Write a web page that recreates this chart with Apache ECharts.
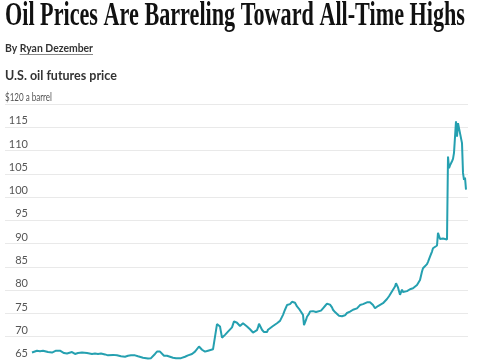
<!DOCTYPE html>
<html><head><meta charset="utf-8">
<script src="https://cdn.jsdelivr.net/npm/echarts@6/dist/echarts.min.js"></script>
<style>html,body{margin:0;padding:0;background:#fff}#c{width:485px;height:360px}</style>
</head><body><div id="c"></div>
<script>
// ---- Text ----
const titleText = 'Oil Prices Are Barreling Toward All-Time Highs';
const bylinePrefix = 'By ';
const authorName = 'Ryan Dezember';
const subtitleText = 'U.S. oil futures price';
const unitLabel = '$120 a barrel';

// ---- Axis ----
const yMin = 65, yMax = 120, yStep = 5;

// ---- Data (trading-day index, price $/barrel) ----
const days = [0,2,5,8,11,13,16,20,22,24,26,28,30,32,35,37,40,42,43,46,50,52,55,57,60,63,66,69,73,76,78,81,85,87,89,93,96,99,103,106,108,111,113,116,119,121,123,125,128,130,132,135,138,141,144,146,149,153,156,160,163,165,167,170,173,176,178,181,183,185,187,188,190,192,193,196,198,200,202,205,207,208,210,211,213,215,217,218,220,221,223,225,226,227,230,232,233,235,236,238,241,245,248,251,253,255,256,258,260,261,263,265,267,268,271,272,274,275,277,278,281,284,286,289,291,293,295,297,298,300,301,303,305,307,308,310,311,313,315,317,318,320,321,323,325,327,328,331,333,335,336,338,340,341,343,345,346,348,351,353,355,357,359,360,361,363,364,366,368,370,371,373,375,376,378,380,381,383,385,386,388,390,391,393,395,396,398,400,401,403,405,406,408,410,411,413,415,416,417,418,420,421,422,424,425,426,428,430,431,432,433,434];
const prices = [66.6,66.8,67.0,66.9,67.0,66.9,66.7,66.6,66.8,67.0,67.3,67.0,66.7,66.5,66.4,66.6,66.7,66.5,66.3,66.5,66.6,66.4,66.5,66.3,66.3,66.4,66.3,66.4,66.2,66.0,65.9,66.1,66.0,65.9,65.8,65.7,65.9,66.0,66.0,65.8,65.7,65.5,65.2,65.3,65.4,65.6,66.3,66.8,66.8,66.4,65.9,65.9,65.7,65.5,65.4,65.2,65.4,65.7,66.0,66.3,66.8,67.1,67.9,67.2,66.8,67.0,67.2,67.3,67.4,72.7,72.4,72.2,69.8,70.1,70.4,71.1,71.3,72.0,73.3,73.0,72.6,72.3,72.6,72.9,72.5,72.2,71.9,71.6,71.2,70.9,71.2,71.4,72.0,72.8,71.5,71.0,70.7,71.0,71.5,71.8,72.3,72.9,73.4,74.7,75.8,76.8,76.5,77.0,77.5,77.5,77.3,76.5,76.0,75.6,74.7,72.5,73.6,74.3,74.9,75.4,75.5,75.3,75.4,75.6,76.1,76.6,77.1,76.9,76.9,76.3,75.8,75.3,74.9,74.5,74.2,74.4,74.3,74.6,75.1,75.3,75.4,75.6,75.8,75.7,76.1,76.4,76.8,77.0,77.3,77.4,77.5,77.4,77.2,76.8,76.1,76.4,76.6,76.8,77.2,77.4,78.1,78.7,79.4,79.6,80.1,80.8,81.5,80.6,79.0,80.1,79.6,79.4,79.8,80.1,80.2,80.3,80.4,80.8,81.1,81.5,82.2,84.0,84.7,84.4,85.6,86.1,87.2,88.3,89.0,89.4,89.6,92.3,91.0,91.2,91.1,91.2,90.9,108.7,106.2,106.8,107.7,108.2,109.5,116.3,113.0,115.9,115.6,111.6,105.2,103.7,104.2,101.6];

const lineData = days.map((d, i) => [d, prices[i]]);

// measure text for layout
const mctx = document.createElement('canvas').getContext('2d');
const titleFont = 'bold 33px "Liberation Serif"';
mctx.font = titleFont;
const titleScale = 460 / mctx.measureText(titleText).width;
const byFont = 'bold 11.5px Lato';
mctx.font = byFont;
const prefixW = mctx.measureText(bylinePrefix).width;
const authorW = mctx.measureText(authorName).width;
const byScale = 88 / (prefixW + authorW);
const unitFont = '10.5px Lato';
mctx.font = unitFont;
const unitScale = 47 / mctx.measureText(unitLabel).width;

const chart = echarts.init(document.getElementById('c'), null, {renderer: 'canvas'});
chart.setOption({
  animation: false,
  backgroundColor: '#fff',
  grid: {left: 5, right: 17, top: 104, bottom: 0, containLabel: false},
  xAxis: {
    type: 'value', min: -27, max: 436,
    show: false
  },
  yAxis: {
    type: 'value', min: yMin, max: yMax, interval: yStep,
    axisLine: {show: false}, axisTick: {show: false},
    splitLine: {show: true, lineStyle: {color: '#e9e9e9', width: 1}},
    axisLabel: {
      show: true, align: 'right', verticalAlign: 'bottom', margin: -23,
      padding: [0, 0, 1, 0],
      color: '#555', fontSize: 11, fontFamily: 'Lato',
      formatter: v => (v === yMax ? '' : String(v))
    }
  },
  graphic: [
    {type: 'text', x: 5, y: 16, scaleX: titleScale,
     style: {text: titleText, font: titleFont, fill: '#111', verticalAlign: 'middle', align: 'left'}},
    {type: 'text', x: 5, y: 48, scaleX: byScale,
     style: {text: bylinePrefix + authorName, font: byFont, fill: '#333', verticalAlign: 'middle', align: 'left'}},
    {type: 'line', shape: {x1: 5 + prefixW * byScale, y1: 54.5, x2: 5 + (prefixW + authorW) * byScale, y2: 54.5},
     style: {stroke: '#888', lineWidth: 1}},
    {type: 'text', x: 5, y: 76,
     style: {text: subtitleText, font: 'bold 12.5px Lato', fill: '#333', verticalAlign: 'middle', align: 'left'}},
    {type: 'text', x: 5, y: 98, scaleX: unitScale,
     style: {text: unitLabel, font: unitFont, fill: '#555', verticalAlign: 'middle', align: 'left'}}
  ],
  series: [{
    type: 'line', data: lineData, showSymbol: false, symbol: 'none',
    lineStyle: {color: '#25a0b0', width: 2}, itemStyle: {color: '#25a0b0'},
    clip: true
  }]
});
</script></body></html>
